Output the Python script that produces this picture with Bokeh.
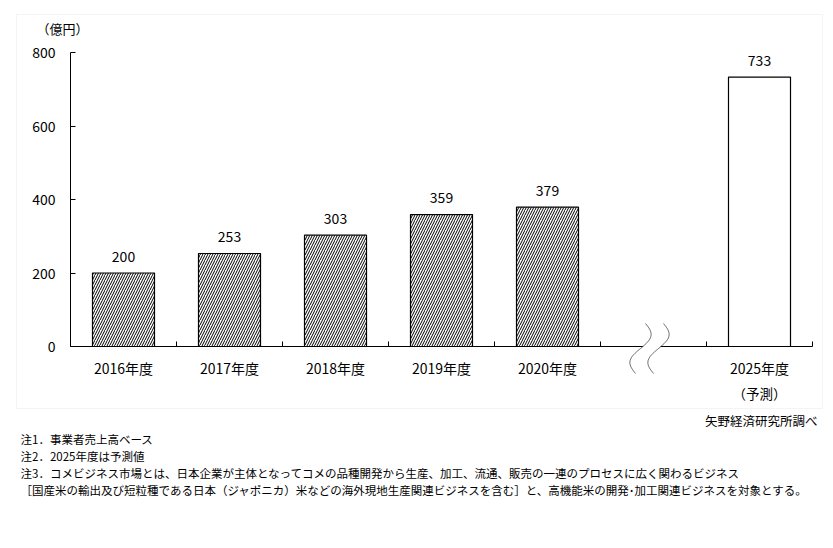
import math
from bokeh.plotting import figure
from bokeh.core.properties import value
from bokeh.models import (Range1d, FixedTicker, Label, LabelSet, ColumnDataSource,
                          BoxAnnotation, PolyAnnotation, LinearAxis)
from bokeh.embed import file_html
from bokeh.resources import INLINE

# ---- data ----
categories = ["2016年度", "2017年度", "2018年度", "2019年度", "2020年度", "", "2025年度"]
values = [200, 253, 303, 359, 379, None, 733]
forecast = [False, False, False, False, False, False, True]
sublabels = ["", "", "", "", "", "", "（予測）"]
y_ticks = [0, 200, 400, 600, 800]
unit_label = "（億円）"
source_note = "矢野経済研究所調べ"
notes = [
    "注1．事業者売上高ベース",
    "注2．2025年度は予測値",
    "注3．コメビジネス市場とは、日本企業が主体となってコメの品種開発から生産、加工、流通、販売の一連のプロセスに広く関わるビジネス",
    "［国産米の輸出及び短粒種である日本（ジャポニカ）米などの海外現地生産関連ビジネスを含む］と、高機能米の開発･加工関連ビジネスを対象とする。",
]

FONT = "Noto Sans CJK JP"
W, H = 833, 548
PL, PR, PT, PB = 70, 812, 52, 346  # plot-area edges in canvas pixels
NC = len(categories)
YMAX = y_ticks[-1]


def dx(px):
    return (px - PL) / (PR - PL) * NC


def dy(py):
    return (PB - py) / (PB - PT) * YMAX


p = figure(width=W, height=H, output_backend="svg", toolbar_location=None,
           x_range=Range1d(dx(0), dx(W)), y_range=Range1d(dy(H), dy(0)),
           min_border_left=0, min_border_right=0, min_border_top=0,
           min_border_bottom=0, x_axis_location=None, y_axis_location=None)
p.outline_line_color = None
p.grid.visible = False
p.background_fill_color = "white"
p.border_fill_color = "white"

centers = [i + 0.5 for i in range(NC)]

# ---- bars ----
hx = [c for c, v, f in zip(centers, values, forecast) if v is not None and not f]
hv = [v for v, f in zip(values, forecast) if v is not None and not f]
fx = [c for c, v, f in zip(centers, values, forecast) if v is not None and f]
fv = [v for v, f in zip(values, forecast) if v is not None and f]

BW = 0.585
p.vbar(x=hx, top=hv, width=BW, bottom=0, fill_color="white", line_color="black",
       line_width=1.2, hatch_pattern="/", hatch_color="black", hatch_scale=5,
       hatch_weight=1.0)
p.vbar(x=fx, top=fv, width=BW, bottom=0, fill_color="white", line_color="black",
       line_width=1.2)

# value labels
lx = [c for c, v in zip(centers, values) if v is not None]
lv = [v for v in values if v is not None]
lsrc = ColumnDataSource(dict(x=lx, y=lv, t=[str(v) for v in lv]))
p.add_layout(LabelSet(x="x", y="y", text="t", source=lsrc, y_offset=17,
                      text_align="center", text_baseline="middle",
                      text_font=value(FONT), text_font_size=value("14px"),
                      text_color="black"))

# ---- axes (fixed at the data origin) ----
xaxis = LinearAxis(ticker=FixedTicker(ticks=centers, minor_ticks=list(range(NC + 1))),
                   fixed_location=0, bounds=(0, NC),
                   major_label_overrides={c: lab for c, lab in zip(centers, categories)},
                   major_tick_line_color=None, major_tick_in=0, major_tick_out=0,
                   minor_tick_in=5, minor_tick_out=0, minor_tick_line_color="black",
                   axis_line_color="black", major_label_standoff=11,
                   major_label_text_font=FONT, major_label_text_font_size="14px",
                   major_label_text_color="black")
p.add_layout(xaxis, "below")

yaxis = LinearAxis(ticker=FixedTicker(ticks=y_ticks, minor_ticks=[]),
                   fixed_location=0, bounds=(0, YMAX),
                   major_tick_in=5, major_tick_out=0, major_tick_line_color="black",
                   minor_tick_line_color=None, axis_line_color="black",
                   major_label_standoff=15, major_label_text_font=FONT,
                   major_label_text_font_size="14px", major_label_text_color="black")
p.add_layout(yaxis, "left")

# sub labels under categories
for c, s in zip(centers, sublabels):
    if s:
        p.add_layout(Label(x=c, y=dy(392), text=s, text_align="center",
                           text_baseline="middle", text_font=FONT, text_font_size="13.5px",
                           text_color="black"))

# axis break mark (decoration, pixel geometry)
gap_idx = categories.index("")
gx = PL + (PR - PL) * centers[gap_idx] / NC
N = 30
left = [(gx - 8 - 10 * t / N + 8 * math.sin(2 * math.pi * t / N), 323 + 50 * t / N) for t in range(N + 1)]
right = [(x + 18, y) for x, y in left]
p.add_layout(PolyAnnotation(xs=[dx(q[0]) for q in left] + [dx(q[0]) for q in reversed(right)],
                            ys=[dy(q[1]) for q in left] + [dy(q[1]) for q in reversed(right)],
                            fill_color="white", fill_alpha=1, line_color=None, level="overlay"))
for curve in (left, right):
    p.add_layout(PolyAnnotation(xs=[dx(q[0]) for q in curve] + [dx(q[0]) for q in reversed(curve)],
                                ys=[dy(q[1]) for q in curve] + [dy(q[1]) for q in reversed(curve)],
                                fill_alpha=0, line_color="black", line_width=1, level="overlay"))

# outer chart border
p.add_layout(BoxAnnotation(left=dx(16), right=dx(822), top=dy(14), bottom=dy(408),
                           fill_alpha=0, line_color="#d9d9d9", line_width=1))

# unit label
p.add_layout(Label(x=dx(62), y=dy(28), text=unit_label,
                   text_align="center", text_baseline="middle", text_font=FONT,
                   text_font_size="13px", text_color="black"))

# source
p.add_layout(Label(x=dx(817), y=dy(420), text=source_note,
                   text_align="right", text_baseline="middle", text_font=FONT,
                   text_font_size="12.5px", text_color="black"))

# notes
for i, n in enumerate(notes):
    p.add_layout(Label(x=dx(20), y=dy(438 + 17 * i), text=n,
                       text_align="left", text_baseline="middle", text_font=FONT,
                       text_font_size="11.5px", text_color="black"))

open("out.html", "w").write(file_html(p, INLINE))
